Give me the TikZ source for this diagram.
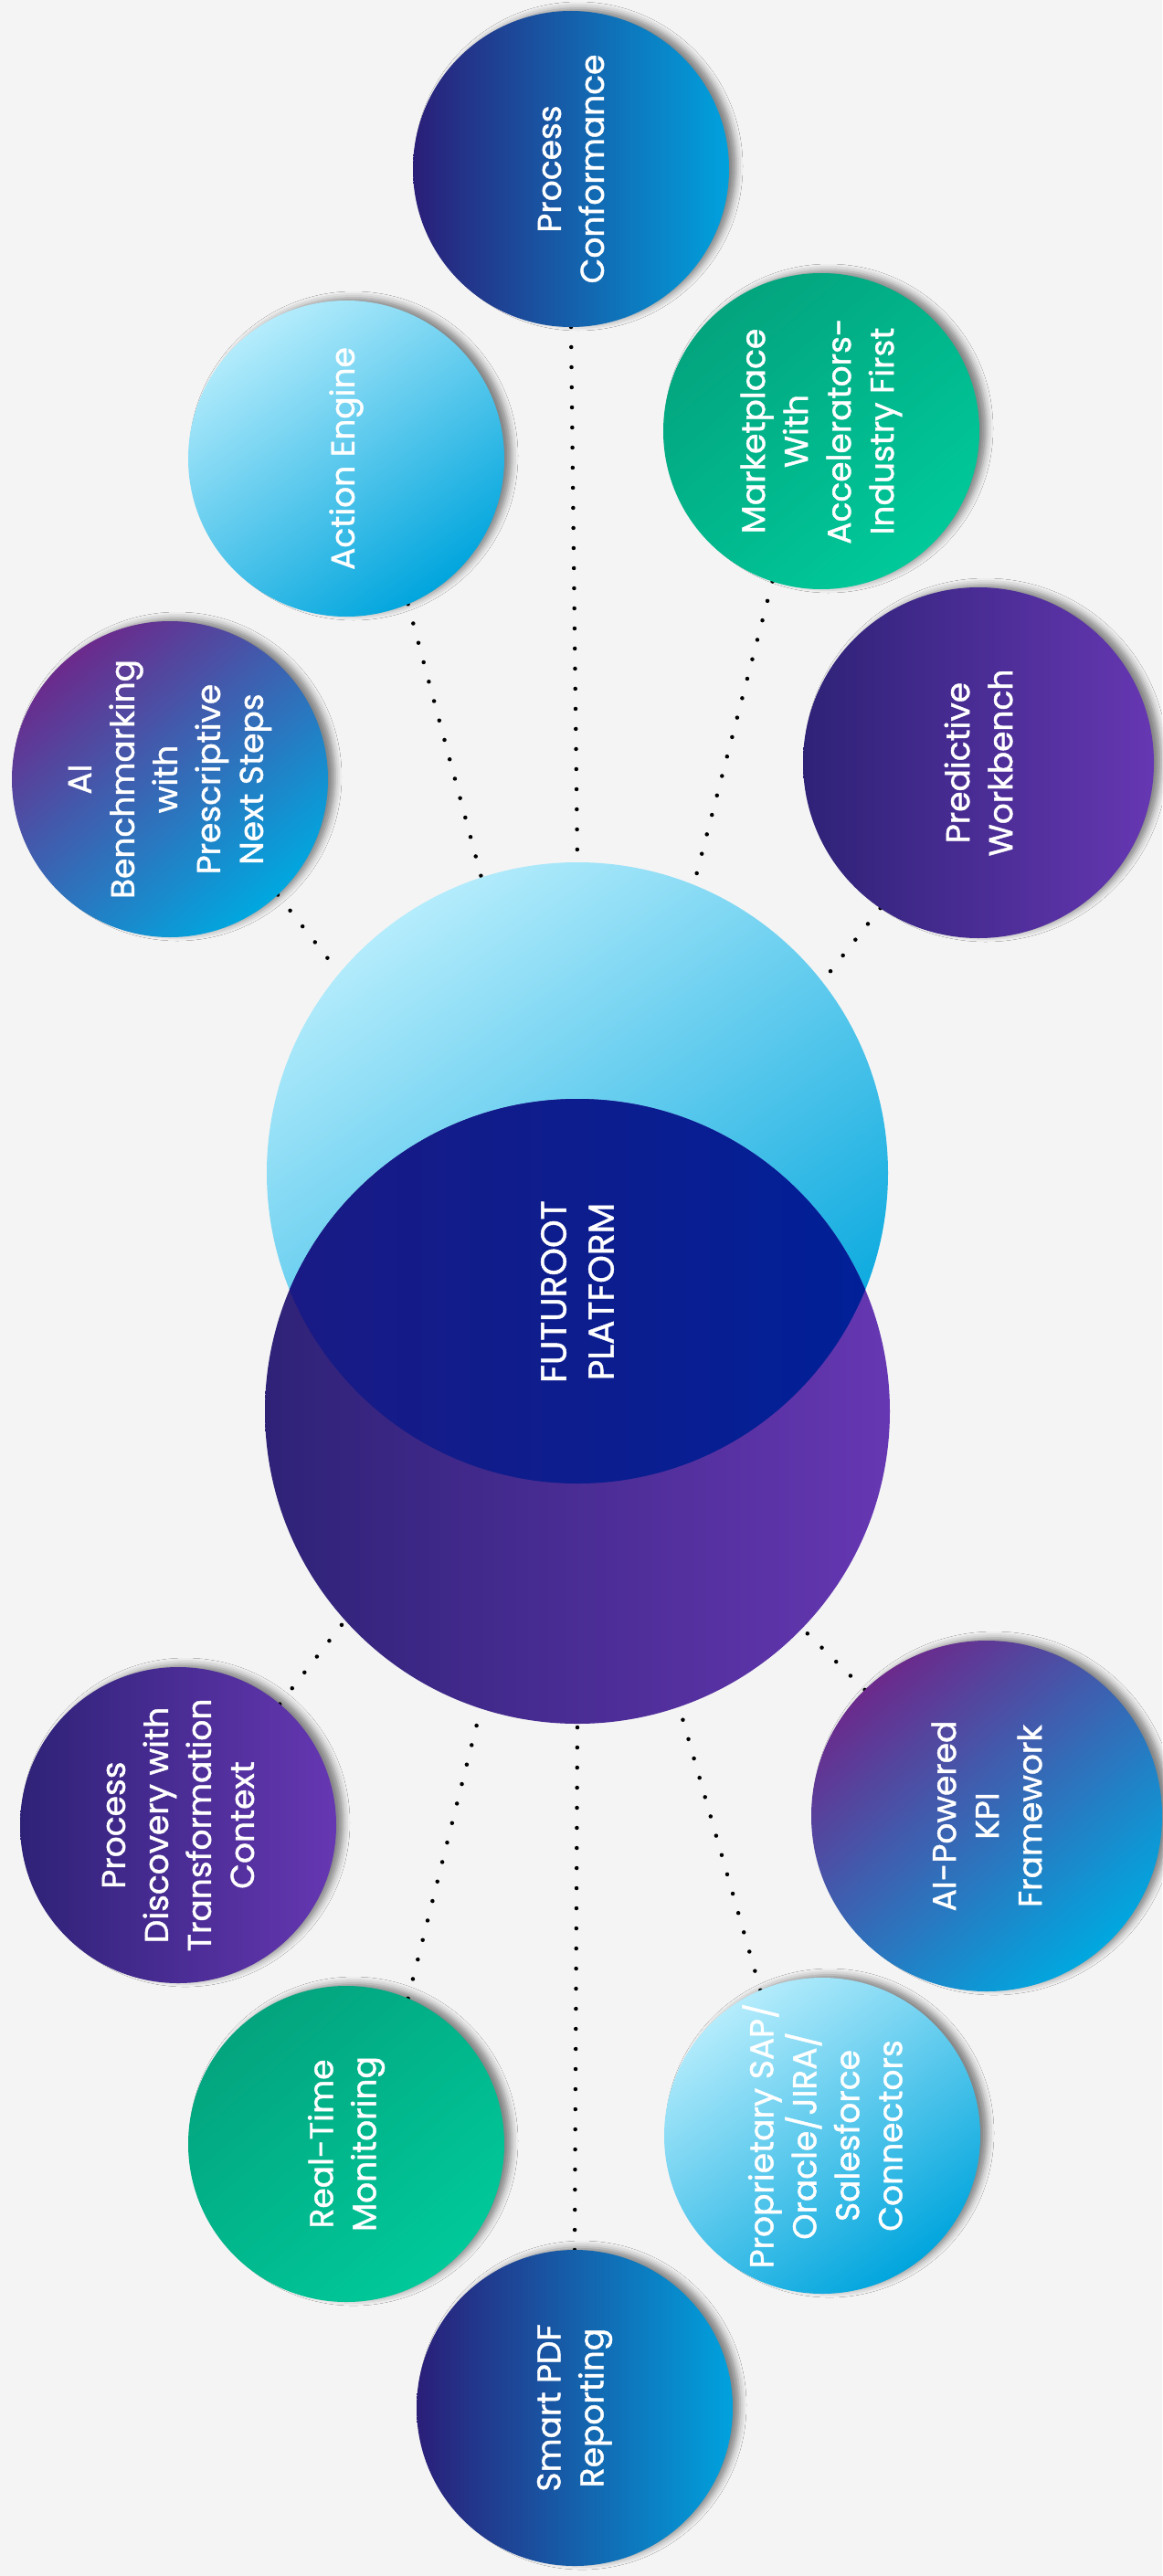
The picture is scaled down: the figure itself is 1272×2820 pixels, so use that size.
\documentclass[tikz,border=0pt]{standalone}
\usepackage{fontspec}
\setmainfont{Poppins}[FakeBold=1.2]
\usetikzlibrary{shadows.blur,backgrounds}
\definecolor{bgc}{HTML}{F4F4F4}
\definecolor{indA}{HTML}{2A1E78}
\definecolor{cyaA}{HTML}{00A2DE}
\definecolor{skyA}{HTML}{B4ECFC}
\definecolor{skyB}{HTML}{00A5DD}
\definecolor{grnA}{HTML}{03A47E}
\definecolor{grnB}{HTML}{00C99A}
\definecolor{plmA}{HTML}{6B2A8C}
\definecolor{cyaB}{HTML}{00A8E0}
\definecolor{vioA}{HTML}{2E2277}
\definecolor{vioB}{HTML}{6637B2}
\definecolor{lensA}{HTML}{1A1A84}
\definecolor{lensB}{HTML}{002098}
\tikzset{bub/.style = {circle, inner sep=0pt, outer sep=0pt, minimum size=346pt,
        blur shadow={shadow xshift=8pt, shadow yshift=3pt, shadow opacity=45, shadow blur radius=7pt}},
    big/.style = {bub, minimum size=384pt},
    ctr/.style = {circle, inner sep=0pt, outer sep=0pt},
    blu/.style = {left color=indA, right color=cyaA},
    sky/.style = {top color=skyA, bottom color=skyB, shading angle=35},
    grn/.style = {top color=grnA, bottom color=grnB, shading angle=40},
    plm/.style = {top color=plmA, bottom color=cyaB, shading angle=40},
    vio/.style = {left color=vioA, right color=vioB},
    t/.style = {text=white, align=center, rotate=90, inner sep=0pt, font=\fontsize{36}{47}\selectfont},
    dots/.style = {line width=4.5pt, line cap=round, dash pattern=on 0pt off 22pt}}

\begin{document}
\begin{tikzpicture}[x=1pt, y=-1pt]
        \useasboundingbox (0,0) rectangle (1272,2820);

        % platform in the middle
        \node[ctr, minimum size=680pt, sky] (light) at (632,1284) {};
        \node[ctr, minimum size=684pt, vio] (purple) at (632,1545) {};
        \begin{scope}
            \clip (light.center) circle (340);
            \shade[left color=lensA, right color=lensB] (purple.center) circle (342);
        \end{scope}
        \node[t, font=\fontsize{39}{52}\selectfont] (core) at (632,1414) {FUTUROOT\\PLATFORM};

        % bubbles round it
        \node[bub, blu] (conform) at (625,185) {};
        \node[bub, sky] (action) at (379,502) {};
        \node[bub, grn] (market) at (899,472) {};
        \node[bub, plm] (bench) at (186,853) {};
        \node[big, vio] (predict) at (1071,835) {};
        \node[bub, vio] (discover) at (195,1998) {};
        \node[big, plm] (kpi) at (1080,1988) {};
        \node[bub, grn] (realtime) at (379,2347) {};
        \node[bub, sky] (connect) at (900,2338) {};
        \node[bub, blu] (report) at (629,2636) {};

        \node[t] (conform-t) at (conform) {Process\\Conformance};
        \node[t] (action-t) at (action) {Action Engine};
        \node[t] (market-t) at (market) {Marketplace\\With\\Accelerators-\\Industry First};
        \node[t] (bench-t) at (bench) {AI\\Benchmarking\\with\\Prescriptive\\Next Steps};
        \node[t] (predict-t) at (predict) {Predictive\\Workbench};
        \node[t] (discover-t) at (discover) {Process\\Discovery with\\Transformation\\Context};
        \node[t] (kpi-t) at (kpi) {AI-Powered\\KPI\\Framework};
        \node[t] (realtime-t) at (realtime) {Real-Time\\Monitoring};
        \node[t] (connect-t) at (connect) {Proprietary SAP/\\Oracle/JIRA/\\Salesforce\\Connectors};
        \node[t] (report-t) at (report) {Smart PDF\\Reporting};

        \begin{scope}[on background layer]
            \fill[bgc] (0,0) rectangle (1272,2820);
            \foreach \a/\b in {conform.south/light.north, action.-67/light.108, market.-108/light.68,
                bench.-47/light.140, predict.-124/light.38, discover.50/purple.222,
                realtime.67/purple.252, report.north/purple.south, connect.113/purple.289, kpi.134/purple.316}
                \draw[dots] (\a) -- (\b);
        \end{scope}
    \end{tikzpicture}
\end{document}
